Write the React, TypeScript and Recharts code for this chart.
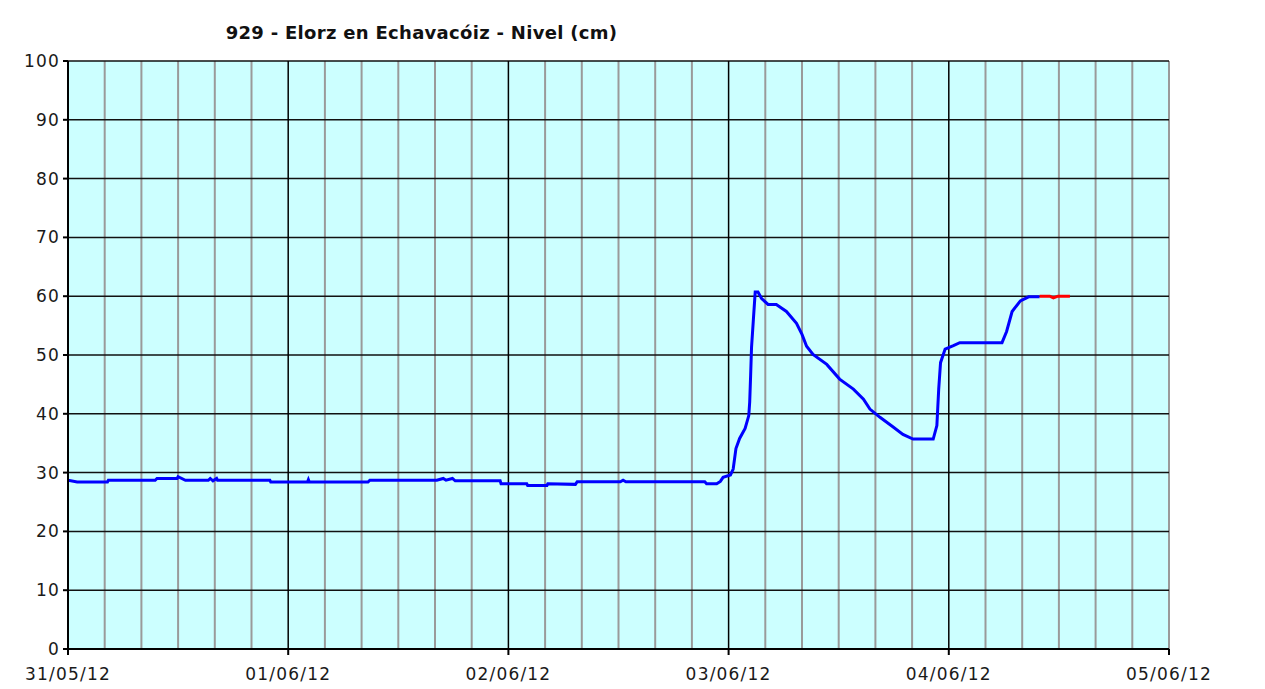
import { LineChart, Line, XAxis, YAxis, CartesianGrid, ReferenceLine } from 'recharts';

// hours since 31/05/12 00:00
const blueHours = [
  0, 1.0, 4.3, 4.4, 9.5, 9.7, 11.9, 12.0, 12.8, 15.3, 15.5, 15.8, 16.2, 16.3, 22.0, 22.1,
  26.1, 26.2, 26.3, 32.7, 32.9, 40.2, 40.9, 41.2, 41.9, 42.2, 47.1, 47.2, 50.0, 50.1, 52.2,
  52.3, 55.3, 55.5, 60.2, 60.5, 60.8, 69.4, 69.6, 70.7, 71.1, 71.4, 72.2, 72.5, 72.8, 73.2,
  73.8, 74.2, 74.3, 74.4, 74.5, 74.7, 74.9, 75.2, 75.6, 76.3, 77.2, 78.3, 79.4, 80.0, 80.5,
  81.2, 82.7, 84.1, 85.6, 86.7, 87.4, 88.5, 89.9, 91.0, 92.1, 94.3, 94.7, 94.9, 95.1, 95.6,
  96.5, 97.2, 101.8, 102.3, 102.9, 103.8, 104.7, 105.9,
];
const blueLevels = [
  28.7, 28.4, 28.4, 28.7, 28.7, 29.0, 29.0, 29.3, 28.7, 28.7, 29.0, 28.6, 29.0, 28.7, 28.7, 28.4,
  28.4, 28.8, 28.4, 28.4, 28.7, 28.7, 29.0, 28.7, 29.0, 28.6, 28.6, 28.1, 28.1, 27.8, 27.8,
  28.1, 28.0, 28.45, 28.45, 28.7, 28.45, 28.45, 28.1, 28.1, 28.5, 29.2, 29.6, 30.6, 34.1, 35.8,
  37.5, 39.7, 42.0, 46.5, 51.3, 56.0, 60.7, 60.7, 59.6, 58.6, 58.6, 57.4, 55.4, 53.5, 51.5,
  50.1, 48.4, 45.9, 44.2, 42.5, 40.8, 39.4, 37.8, 36.5, 35.7, 35.7, 38.0, 44.2, 48.7, 51.0,
  51.6, 52.1, 52.1, 54.0, 57.4, 59.2, 59.9, 59.9,
];
const redHours = [105.9, 107.0, 107.4, 107.9, 108.3, 109.2];
const redLevels = [60.0, 60.0, 59.7, 60.0, 60.0, 60.0];

const dayTicks = [0, 24, 48, 72, 96, 120];
const dayLabels = ['31/05/12', '01/06/12', '02/06/12', '03/06/12', '04/06/12', '05/06/12'];
const minorHours = Array.from({ length: 31 }, (_, i) => i * 4).filter((h) => h % 24 !== 0 || h === 120);
const levelTicks = [0, 10, 20, 30, 40, 50, 60, 70, 80, 90, 100];

const blueData = blueHours.map((h, i) => ({ h, v: blueLevels[i] }));
const redData = redHours.map((h, i) => ({ h, v: redLevels[i] }));

const font = '"DejaVu Sans", Verdana, sans-serif';
const tickStyle = { fontFamily: font, fontSize: 17, fill: '#1a1a1a', letterSpacing: 1.2 };

const App = () => {
  return (
    <div style={{ position: 'relative', width: 1249, height: 681, background: '#fff' }}>
      <div
        style={{
          position: 'absolute',
          left: 0,
          width: 827,
          top: 14,
          textAlign: 'center',
          fontFamily: font,
          fontWeight: 'bold',
          fontSize: 18,
          letterSpacing: 0.3,
          color: '#111',
        }}
      >
        929 - Elorz en Echavacóiz - Nivel (cm)
      </div>
      <LineChart width={1249} height={681} margin={{ top: 53, right: 88, left: 0, bottom: 2 }}>
        <CartesianGrid fill="#CCFFFF" horizontal={false} vertical={false} />
        <XAxis
          type="number"
          dataKey="h"
          domain={[0, 120]}
          ticks={dayTicks}
          interval={0}
          tickFormatter={(v: number) => dayLabels[dayTicks.indexOf(v)]}
          tick={tickStyle}
          tickSize={6}
          tickMargin={13}
          height={38}
          stroke="#000"
          strokeWidth={2}
          allowDataOverflow
        />
        <YAxis
          type="number"
          domain={[0, 100]}
          ticks={levelTicks}
          interval={0}
          tick={tickStyle}
          tickSize={5}
          tickMargin={3}
          width={60}
          stroke="#000"
          strokeWidth={2}
        />
        {minorHours.map((h) => (
          <ReferenceLine key={'m' + h} x={h} stroke="#9a9a9a" strokeWidth={2} />
        ))}
        {levelTicks.slice(1).map((v) => (
          <ReferenceLine key={'y' + v} y={v} stroke="#111" strokeWidth={1.5} />
        ))}
        {dayTicks.slice(1, 5).map((h) => (
          <ReferenceLine key={'d' + h} x={h} stroke="#000" strokeWidth={1.5} />
        ))}
        <Line
          data={blueData}
          dataKey="v"
          type="linear"
          stroke="#0000FF"
          strokeWidth={3}
          dot={false}
          isAnimationActive={false}
        />
        <Line
          data={redData}
          dataKey="v"
          type="linear"
          stroke="#FF0000"
          strokeWidth={3}
          dot={false}
          isAnimationActive={false}
        />
      </LineChart>
    </div>
  );
};

export default App;
